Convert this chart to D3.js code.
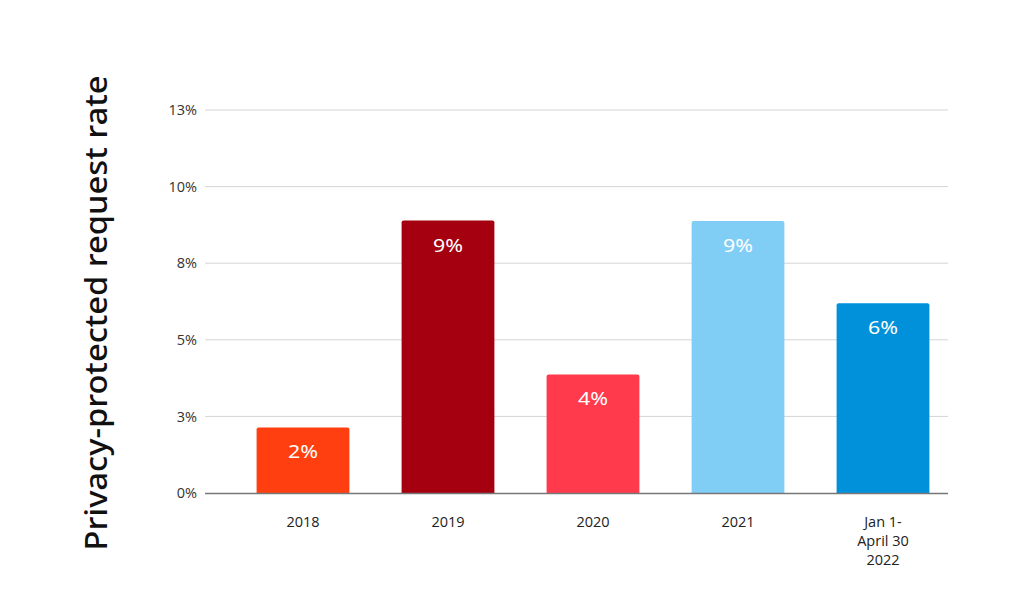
<!DOCTYPE html>
<html><head><meta charset="utf-8">
<script src="https://cdn.jsdelivr.net/npm/d3@7"></script>
<style>body{margin:0;background:#fff}svg{display:block}</style>
</head><body>
<svg id="c" width="1024" height="615"></svg>
<script>
const categories = ["2018", "2019", "2020", "2021", "Jan 1-\nApril 30\n2022"];
const values = [2.14, 8.89, 3.87, 8.88, 6.19];
const valueLabels = ["2%", "9%", "4%", "9%", "6%"];
const colors = ["#FF3F0F", "#A4000F", "#FF3A4D", "#80CEF6", "#0091DA"];
const tickValues = [0, 2.5, 5, 7.5, 10, 12.5];
const tickLabels = ["0%", "3%", "5%", "8%", "10%", "13%"];
const yTitle = "Privacy-protected request rate";

const svg = d3.select("#c");
const y = d3.scaleLinear().domain([0, 12.5]).range([493, 110]);
const x = d3.scaleBand().domain(categories).range([230.5, 955.5]).paddingInner(0.36).paddingOuter(0.18);
const gridL = 205, gridR = 948;

// gridlines
svg.append("g").selectAll("line").data(tickValues.slice(1)).join("line")
  .attr("x1", gridL).attr("x2", gridR)
  .attr("y1", d => y(d)).attr("y2", d => y(d))
  .attr("stroke", "#d4d4d4").attr("stroke-width", 1);

// y tick labels
const yAxis = d3.axisLeft(y).tickValues(tickValues).tickFormat((d, i) => tickLabels[i]).tickSize(0).tickPadding(0);
const ga = svg.append("g").attr("transform", `translate(${gridL - 8},0)`).call(yAxis);
ga.select(".domain").remove();
ga.selectAll("text").attr("font-family", "'Open Sans', sans-serif").attr("font-size", 14.5).attr("fill", "#333");

// bars
svg.append("g").selectAll("path").data(categories).join("path")
  .attr("d", (d, i) => {
    const x0 = x(d), w = x.bandwidth(), y0 = y(values[i]), y1 = y(0), r = 2;
    return `M${x0},${y1}V${y0 + r}Q${x0},${y0} ${x0 + r},${y0}H${x0 + w - r}Q${x0 + w},${y0} ${x0 + w},${y0 + r}V${y1}Z`;
  })
  .attr("fill", (d, i) => colors[i]);

// bar labels
svg.append("g").selectAll("text").data(categories).join("text")
  .attr("x", d => x(d) + x.bandwidth() / 2)
  .attr("y", (d, i) => y(values[i]) + 31)
  .attr("text-anchor", "middle")
  .attr("font-family", "'Noto Sans', sans-serif").attr("font-weight", 400)
  .attr("font-size", 18).attr("fill", "#fff")
  .attr("textLength", 30).attr("lengthAdjust", "spacingAndGlyphs")
  .text((d, i) => valueLabels[i]);

// baseline
svg.append("line").attr("x1", gridL).attr("x2", gridR).attr("y1", y(0) + 0.5).attr("y2", y(0) + 0.5)
  .attr("stroke", "#777").attr("stroke-width", 1.3);

// x labels
const xl = svg.append("g").selectAll("text").data(categories).join("text")
  .attr("x", d => x(d) + x.bandwidth() / 2)
  .attr("y", 527)
  .attr("text-anchor", "middle")
  .attr("font-family", "'Open Sans', sans-serif").attr("font-size", 14.5).attr("fill", "#222");
xl.each(function(d) {
  const t = d3.select(this);
  d.split("\n").forEach((s, j) => {
    t.append("tspan").attr("x", x(d) + x.bandwidth() / 2).attr("dy", j === 0 ? 0 : 19).text(s);
  });
});

// y title
svg.append("text")
  .attr("transform", "translate(107,313) rotate(-90)")
  .attr("text-anchor", "middle")
  .attr("font-family", "'Noto Sans', sans-serif").attr("font-weight", 500)
  .attr("font-size", 31).attr("fill", "#111")
  .attr("textLength", 475).attr("lengthAdjust", "spacingAndGlyphs")
  .text(yTitle);
</script>
</body></html>
